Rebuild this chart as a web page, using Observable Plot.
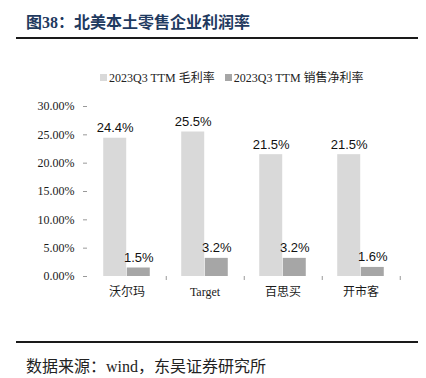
<!DOCTYPE html>
<html>
<head>
<meta charset="utf-8">
<script src="https://cdn.jsdelivr.net/npm/d3@7"></script>
<script src="https://cdn.jsdelivr.net/npm/@observablehq/plot@0.6"></script>
<style>
  html, body { margin: 0; padding: 0; background: #fff; }
  #wrap { position: relative; width: 426px; height: 378px; overflow: hidden; background: #fff; }
  .serif { font-family: "Liberation Serif", "Noto Sans CJK SC", serif; }
  #title { position: absolute; left: 26px; top: 13px; font-size: 16px; line-height: 20px; font-weight: bold; color: #1f3a5f; white-space: nowrap; }
  .rule { position: absolute; left: 16px; width: 402px; height: 2px; background: #1a1a1a; }
  #legend { position: absolute; left: 100px; top: 70px; height: 14px; display: flex; align-items: center; font-size: 12px; color: #222; white-space: nowrap; }
  #legend .sw { width: 7px; height: 7px; margin-right: 2px; display: inline-block; }
  #legend .item { display: flex; align-items: center; margin-right: 10px; }
  #chart { position: absolute; left: 0; top: 90px; }
  #source { position: absolute; left: 26px; top: 357px; font-size: 16px; line-height: 19px; color: #222; white-space: nowrap; }
</style>
</head>
<body>
<div id="wrap">
  <div id="title" class="serif">图38：北美本土零售企业利润率</div>
  <div class="rule" style="top:37px"></div>
  <div id="legend" class="serif"></div>
  <div id="chart"></div>
  <div class="rule" style="top:341px"></div>
  <div id="source" class="serif">数据来源：wind，东吴证券研究所</div>
</div>
<script>
const categories = ["沃尔玛", "Target", "百思买", "开市客"];
const grossMargin = [0.244, 0.255, 0.215, 0.215];
const netMargin = [0.015, 0.032, 0.032, 0.016];
const seriesNames = ["2023Q3 TTM 毛利率", "2023Q3 TTM 销售净利率"];
const seriesColors = ["#d9d9d9", "#a6a6a6"];
const yTicks = [0, 0.05, 0.10, 0.15, 0.20, 0.25, 0.30];

const W = 426, H = 216, mL = 87, mR = 25, mT = 16, mB = 30;
const padInner = 0.7;
const step = (W - mL - mR) / categories.length;
const bw = step * (1 - padInner);

const rows = [];
categories.forEach((c, i) => {
  rows.push({cat: c, series: seriesNames[0], value: grossMargin[i]});
  rows.push({cat: c, series: seriesNames[1], value: netMargin[i]});
});
const grossRows = rows.filter(d => d.series === seriesNames[0]);
const netRows = rows.filter(d => d.series === seriesNames[1]);

// legend
const legend = document.getElementById("legend");
seriesNames.forEach((s, i) => {
  const it = document.createElement("span");
  it.className = "item";
  it.innerHTML = `<span class="sw" style="background:${seriesColors[i]}"></span>${s}`;
  legend.appendChild(it);
});

const fmtPct = d3.format(".2%");
const fmtLabel = d => (d * 100).toFixed(1) + "%";
const serif = "Liberation Serif, Noto Sans CJK SC, serif";
const sans = "Liberation Sans, Arial, sans-serif";

const plot = Plot.plot({
  width: W,
  height: H,
  marginLeft: mL,
  marginRight: mR,
  marginTop: mT,
  marginBottom: mB,
  style: {background: "transparent", fontFamily: serif, fontSize: "12px", color: "#1a1a1a"},
  x: {domain: categories, paddingInner: padInner, paddingOuter: padInner / 2, axis: null},
  y: {domain: [0, 0.30], axis: null},
  marks: [
    Plot.barY(grossRows, {x: "cat", y: "value", dx: -bw / 2, fill: seriesColors[0]}),
    Plot.barY(netRows, {x: "cat", y: "value", dx: bw / 2, fill: seriesColors[1]}),
    Plot.text(grossRows, {x: "cat", y: "value", dx: -bw / 2, dy: -6, text: d => fmtLabel(d.value), lineAnchor: "bottom", fontFamily: sans, fontSize: 13, fill: "#111"}),
    Plot.text(netRows, {x: "cat", y: "value", dx: bw / 2, dy: -6, text: d => fmtLabel(d.value), lineAnchor: "bottom", fontFamily: sans, fontSize: 13, fill: "#111"}),
    Plot.axisY({ticks: yTicks, tickFormat: fmtPct, tickSize: 4, tickPadding: 9, stroke: "#999", fill: "#1a1a1a", line: true, label: null, fontFamily: serif, fontSize: 12}),
    Plot.axisX({tickSize: 4, dx: step / 2, tickFormat: () => "", stroke: "#999", label: null}),
    Plot.axisX({tickSize: 0, tickPadding: 11, stroke: "#999", line: true, label: null, fill: "#1a1a1a", fontFamily: serif, fontSize: 12})
  ]
});
document.getElementById("chart").appendChild(plot);
</script>
</body>
</html>
